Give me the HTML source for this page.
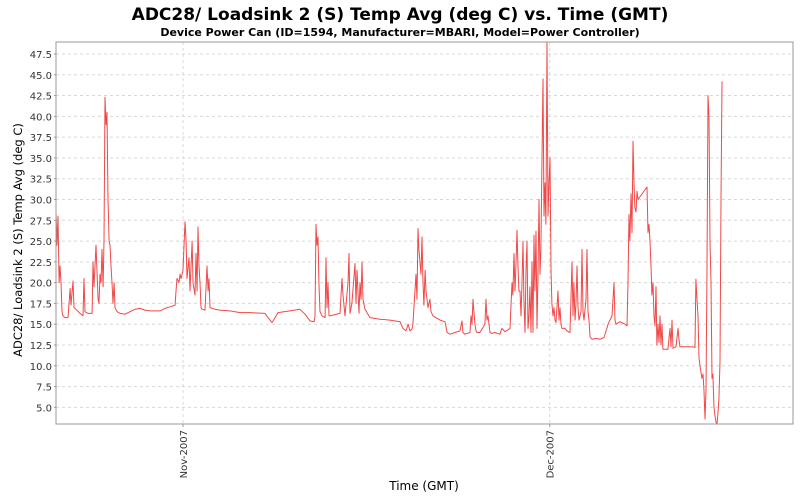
<!DOCTYPE html>
<html><head><meta charset="utf-8">
<style>
html,body{margin:0;padding:0;background:#fff;}
svg{display:block;font-family:"DejaVu Sans","Liberation Sans",sans-serif;}
</style></head>
<body>
<svg id="chart" width="800" height="500" viewBox="0 0 800 500">
  <text x="400" y="20" text-anchor="middle" font-size="17" font-weight="bold" fill="#000">ADC28/ Loadsink 2 (S) Temp Avg (deg C) vs. Time (GMT)</text>
  <text x="400" y="36" text-anchor="middle" font-size="11" font-weight="bold" fill="#000">Device Power Can (ID=1594, Manufacturer=MBARI, Model=Power Controller)</text>
  <g id="grid"></g>
  <g id="yticks"></g>
  <g id="xticks"></g>
  <path id="series" fill="none" stroke="#f04848" stroke-width="1" stroke-linejoin="round"></path>
  <rect x="56" y="42" width="737" height="382" fill="none" stroke="#999" stroke-width="1"></rect>
  <text transform="translate(22,240) rotate(-90)" text-anchor="middle" font-size="11.5" fill="#000">ADC28/ Loadsink 2 (S) Temp Avg (deg C)</text>
  <text x="424" y="490" text-anchor="middle" font-size="12" fill="#000">Time (GMT)</text>
</svg>
<script>
// days since 1 Nov 2007
const days = [-10.39,-10.31,-10.23,-10.14,-10.06,-9.98,-9.90,-9.82,-9.65,-9.41,-9.24,-9.16,-9.00,-8.92,-8.75,-8.43,-8.18,-8.10,-8.02,-7.77,-7.44,-7.36,-7.28,-7.12,-7.03,-6.95,-6.87,-6.79,-6.71,-6.63,-6.54,-6.46,-6.38,-6.30,-6.22,-6.14,-6.05,-5.97,-5.89,-5.81,-5.73,-5.64,-5.56,-5.40,-5.15,-4.74,-4.34,-3.93,-3.52,-3.11,-2.70,-1.88,-1.47,-1.06,-0.65,-0.57,-0.49,-0.33,-0.25,-0.16,0,0.16,0.25,0.33,0.49,0.57,0.74,0.82,0.98,1.06,1.15,1.23,1.31,1.39,1.47,1.55,1.80,1.96,2.05,2.13,2.21,2.62,3.03,3.84,4.66,5.48,6.71,6.95,7.28,7.53,7.77,8.75,9.57,9.98,10.39,10.72,10.80,10.88,10.96,11.04,11.12,11.21,11.37,11.62,11.70,11.78,11.86,11.94,12.02,12.84,13.01,13.09,13.25,13.50,13.58,13.66,13.82,14.07,14.15,14.23,14.40,14.48,14.56,14.64,14.72,14.89,15.30,16.11,16.93,17.75,18.00,18.24,18.41,18.57,18.73,18.81,19.06,19.14,19.22,19.30,19.47,19.55,19.63,19.71,19.80,19.88,20.04,20.20,20.29,20.45,21.02,21.43,21.60,21.84,22.25,22.66,22.82,22.90,23.07,23.48,23.56,23.64,23.72,23.80,23.89,23.97,24.05,24.29,24.70,24.79,24.87,24.95,25.11,25.28,25.52,25.93,26.09,26.34,26.75,26.91,26.99,27.08,27.16,27.24,27.32,27.40,27.48,27.57,27.65,27.73,27.81,27.89,27.98,28.06,28.14,28.22,28.30,28.38,28.47,28.55,28.63,28.71,28.79,28.88,28.96,29.04,29.12,29.20,29.28,29.37,29.45,29.53,29.61,29.69,29.78,29.86,29.94,30.02,30.10,30.18,30.27,30.35,30.43,30.51,30.68,30.76,30.84,30.92,31.00,31.25,31.41,31.66,31.82,31.90,31.98,32.07,32.15,32.23,32.31,32.39,32.56,32.64,32.72,32.80,32.97,33.05,33.13,33.21,33.29,33.46,33.78,34.11,34.44,34.68,34.77,35.09,35.26,35.34,35.42,35.75,36.16,36.32,36.40,36.48,36.56,36.65,36.73,36.81,36.89,36.97,37.06,37.14,37.22,37.96,38.04,38.12,38.20,38.28,38.36,38.45,38.53,38.61,38.69,38.77,38.86,38.94,39.02,39.10,39.18,39.26,39.35,39.67,39.84,39.92,40.00,40.08,40.33,40.49,40.57,40.65,41.06,41.31,41.64,41.88,41.96,42.05,42.13,42.21,42.29,42.45,42.54,42.62,42.70,42.78,42.86,42.95,43.03,43.11,43.19,43.27,43.35,43.44,43.52,43.60,43.68,43.76,43.84,43.93,44.01,44.09];
const temps = [28.5,24.5,28,20,22,20,16.5,16,15.8,15.8,19.3,17.3,20.2,17,16.8,16.3,16,20.5,16.5,16.3,16.3,22.5,19.5,24.5,21,18,17.5,21,20,24,19.5,25,42.3,39,40.5,30,25,24.5,22,20,17.5,20,17,16.5,16.3,16.2,16.5,16.8,16.9,16.7,16.6,16.6,16.9,17.1,17.3,19,20.5,20,21,20.5,21.5,27.3,25,20.5,23,19,25,20,18.5,23.5,19,26.7,22,20,17,16.8,16.7,22,19,20.5,17,16.8,16.7,16.6,16.4,16.4,16.3,15.8,15.2,15.8,16.4,16.6,16.8,16.2,15.4,15.3,16,27,24.5,25.5,20,16.5,16,15.8,23,17,20,16,16,16.3,20.5,18.5,16,20,23.5,16.3,17.5,22.3,17.5,21.5,16.3,20,18,22.5,18,16.8,15.8,15.6,15.5,15.3,14.5,14.2,15,14.2,14.4,15,21,18,26.5,24,21,25.5,20,17.3,21.5,19,17,18,16.5,16,15.5,15.3,14,13.8,14,14.2,15.4,14,13.8,14,16,15,18,16.5,15,14.2,14,14,15,18,15.5,16,14,13.9,14,13.8,14.5,14.1,14.5,20,18.5,23.5,19,22.3,26.3,22,19,19,16,20,25,18,14,21.5,25,14.5,16,19.5,14,22.5,14,25.7,19,26.2,14.5,21,30,21,24,35,44.5,28,32,27,48.9,28,32,35,21.5,17.5,16,17,15.5,15.2,19,15.5,17,15,14.5,14.5,14.2,14,22.5,16,20,15.5,17.5,22,17,15.5,16.5,24,16.5,15.5,18,24,16.5,15.5,13.5,13.2,13.3,13.2,13.4,14.5,15,16,20,15.5,15,15.3,15,14.8,20,28.2,25,30.7,26,37,32,29,28.5,31,30,31.5,26,27,25,22,18.5,20,16,14.8,19.5,12.5,15,12.8,16,12.5,15,12,12,12,14.5,12.3,15.5,12.1,12.3,14.5,13.3,12.3,12.3,12.3,12.3,12.2,20.4,18,16,11,10,8.5,9,7,3.6,7,20,42.5,40,25,20,8.5,9,5,4,3.2,3,4.2,6,10.5,30,44.2];
const yTicks = [5.0,7.5,10.0,12.5,15.0,17.5,20.0,22.5,25.0,27.5,30.0,32.5,35.0,37.5,40.0,42.5,45.0,47.5];
const xTickDays = [0,30];
const xTickLabels = ["Nov-2007","Dec-2007"];

const L=56,R=793,T=42,B=424;
const xMin=-10.39,xMax=49.9,yMin=3.0,yMax=48.94;
const xs=d=>L+(d-xMin)/(xMax-xMin)*(R-L);
const ys=v=>B-(v-yMin)/(yMax-yMin)*(B-T);
const NS="http://www.w3.org/2000/svg";
const grid=document.getElementById('grid'),yg=document.getElementById('yticks'),xg=document.getElementById('xticks');

yTicks.forEach(v=>{
  const y=ys(v);
  const ln=document.createElementNS(NS,'line');
  
  
  ln.setAttribute('x1',L);ln.setAttribute('x2',R);ln.setAttribute('y1',y);ln.setAttribute('y2',y);
  ln.setAttribute('stroke','#d8d8d8');ln.setAttribute('stroke-dasharray','3,3');
  grid.appendChild(ln);
  const tk=document.createElementNS(NS,'line');
  
  
  tk.setAttribute('x1',L-2);tk.setAttribute('x2',L);tk.setAttribute('y1',y);tk.setAttribute('y2',y);
  tk.setAttribute('stroke','#999');
  yg.appendChild(tk);
  const t=document.createElementNS(NS,'text');
  
  
  t.setAttribute('x',L-4);t.setAttribute('y',y+4);t.setAttribute('text-anchor','end');
  t.setAttribute('font-size','10');t.setAttribute('fill','#333');
  t.textContent=v.toFixed(1);
  yg.appendChild(t);
});
xTickDays.forEach((d,i)=>{
  const x=xs(d);
  const ln=document.createElementNS(NS,'line');
  
  
  ln.setAttribute('x1',x);ln.setAttribute('x2',x);ln.setAttribute('y1',T);ln.setAttribute('y2',B);
  ln.setAttribute('stroke','#d8d8d8');ln.setAttribute('stroke-dasharray','3,3');
  grid.appendChild(ln);
  const tk=document.createElementNS(NS,'line');
  
  
  tk.setAttribute('x1',x);tk.setAttribute('x2',x);tk.setAttribute('y1',B);tk.setAttribute('y2',B+3);
  tk.setAttribute('stroke','#999');
  xg.appendChild(tk);
  const t=document.createElementNS(NS,'text');
  
  
  t.setAttribute('transform','translate('+(x+4)+','+(B+6)+') rotate(-90)');
  t.setAttribute('text-anchor','end');t.setAttribute('font-size','10');t.setAttribute('fill','#333');
  t.textContent=xTickLabels[i];
  xg.appendChild(t);
});
let d='';
days.forEach((dd,i)=>{d+=(i?'L':'M')+xs(dd).toFixed(1)+' '+ys(temps[i]).toFixed(1);});
document.getElementById('series').setAttribute('d',d);
</script>
</body></html>
